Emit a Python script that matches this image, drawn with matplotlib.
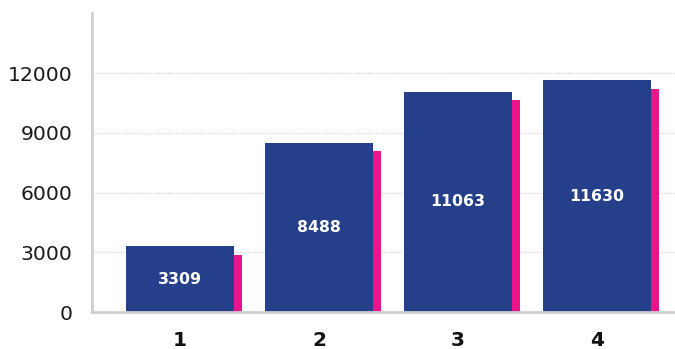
import matplotlib
matplotlib.use("Agg")
import matplotlib.pyplot as plt
from matplotlib.transforms import ScaledTranslation

categories = ["1", "2", "3", "4"]
values = [3309, 8488, 11063, 11630]
y_ticks = [0, 3000, 6000, 9000, 12000]

BLUE = "#253f8b"
PINK = "#ea158c"
GRID = "#d9d9d9"
SPINE = "#cfcfcf"

plt.rcParams["font.family"] = ["DejaVu Sans"]

fig = plt.figure(figsize=(6.75, 3.49), dpi=100)
ax = fig.add_axes([0.1363, 0.106, 0.8637, 0.856])

x = list(range(1, len(categories) + 1))
width = 0.777

# drop shadow: same bars shifted right and down
shadow = ax.transData + ScaledTranslation(8.3 / 100, -8.5 / 100, fig.dpi_scale_trans)
ax.bar(x, values, width=width, color=PINK, transform=shadow, zorder=2)
bars = ax.bar(x, values, width=width, color=BLUE, zorder=3)

for xi, v in zip(x, values):
    ax.text(xi, v / 2, f"{v}", ha="center", va="center", color="white",
            fontsize=11.3, fontweight="bold", zorder=4)

ax.set_xlim(0.367, 4.56)
ax.set_ylim(0, 15000)
ax.set_yticks(y_ticks)
ax.set_yticklabels([str(t) for t in y_ticks], fontsize=14.7, color="#1a1a1a")
ax.set_xticks(x)
ax.set_xticklabels(categories, fontsize=14.5, fontweight="bold", color="#111111")
ax.tick_params(axis="both", length=0)
ax.tick_params(axis="y", pad=14)
ax.tick_params(axis="x", pad=14)

for t in y_ticks[1:]:
    ax.axhline(t, color=GRID, linestyle=(0, (1, 1)), linewidth=1.0, zorder=1)

for s in ["top", "right"]:
    ax.spines[s].set_visible(False)
for s in ["left", "bottom"]:
    ax.spines[s].set_color(SPINE)
    ax.spines[s].set_linewidth(2)
    ax.spines[s].set_zorder(5)

fig.savefig("out.png", dpi=100)
